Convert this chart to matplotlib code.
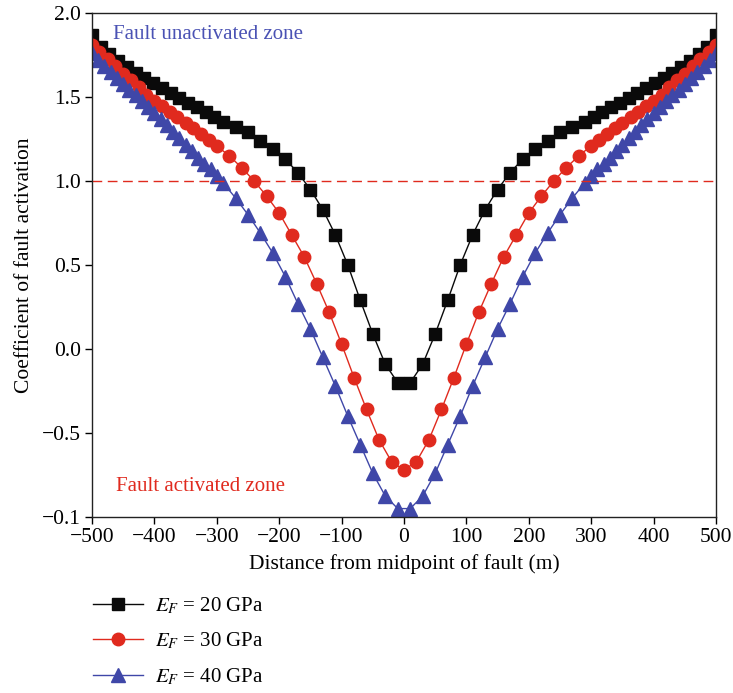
import matplotlib
matplotlib.use("Agg")
import matplotlib.pyplot as plt
import numpy as np

plt.rcParams["font.family"] = ["Liberation Serif", "DejaVu Serif"]
plt.rcParams["mathtext.fontset"] = "stix"

# ---------------------------------------------------------------------------
# Data (left half; the curves are symmetric about 0)
# ---------------------------------------------------------------------------
x_20_left = [-500, -486, -472, -458, -444, -430, -416, -402, -388, -374, -360,
             -346, -332, -318, -304, -290, -270, -250, -230, -210, -190, -170,
             -150, -130, -110, -90, -70, -50, -30, -10]
y_20_left = [1.87, 1.80, 1.755, 1.715, 1.68, 1.645, 1.615, 1.585, 1.555, 1.525,
             1.495, 1.465, 1.44, 1.41, 1.38, 1.35, 1.32, 1.29, 1.24, 1.19, 1.13,
             1.05, 0.95, 0.83, 0.68, 0.50, 0.29, 0.09, -0.09, -0.20]

x_30_left = [-500, -488, -475, -463, -450, -438, -425, -413, -400, -388, -375,
             -363, -350, -338, -325, -313, -300, -280, -260, -240, -220, -200,
             -180, -160, -140, -120, -100, -80, -60, -40, -20]
y_30_left = [1.81, 1.77, 1.725, 1.685, 1.64, 1.60, 1.56, 1.515, 1.475, 1.445,
             1.41, 1.38, 1.345, 1.315, 1.28, 1.245, 1.21, 1.15, 1.08, 1.00, 0.91,
             0.81, 0.68, 0.55, 0.39, 0.22, 0.03, -0.17, -0.36, -0.54, -0.67]
x_30_mid = [0]
y_30_mid = [-0.72]

x_40_left = [-500, -490, -480, -470, -460, -450, -440, -430, -420, -410, -400,
             -390, -380, -370, -360, -350, -340, -330, -320, -310, -300, -290,
             -270, -250, -230, -210, -190, -170, -150, -130, -110, -90, -70,
             -50, -30, -10]
y_40_left = [1.76, 1.72, 1.685, 1.65, 1.615, 1.58, 1.545, 1.51, 1.475, 1.44,
             1.405, 1.37, 1.335, 1.295, 1.255, 1.215, 1.18, 1.14, 1.10, 1.07,
             1.03, 0.99, 0.90, 0.80, 0.69, 0.57, 0.43, 0.27, 0.12, -0.05, -0.22,
             -0.40, -0.57, -0.74, -0.875, -0.95]

labels = [r"$E_F$ = 20 GPa", r"$E_F$ = 30 GPa", r"$E_F$ = 40 GPa"]
y_ticks = [-1.0, -0.5, 0.0, 0.5, 1.0, 1.5, 2.0]
y_tick_labels = ["\u22120.1", "\u22120.5", "0.0", "0.5", "1.0", "1.5", "2.0"]
x_ticks = [-500, -400, -300, -200, -100, 0, 100, 200, 300, 400, 500]


def mirror(xl, yl, xm=None, ym=None):
    xm = xm or []
    ym = ym or []
    x = list(xl) + list(xm) + [-v for v in reversed(xl)]
    y = list(yl) + list(ym) + list(reversed(yl))
    return np.array(x), np.array(y)


BLACK = "#0a0a0a"
RED = "#e02a1e"
BLUE = "#3f47a8"

fig = plt.figure(figsize=(7.33, 6.93), dpi=100)
ax = fig.add_axes([0.1255, 0.254, 0.8513, 0.727])

x20, y20 = mirror(x_20_left, y_20_left)
x30, y30 = mirror(x_30_left, y_30_left, x_30_mid, y_30_mid)
x40, y40 = mirror(x_40_left, y_40_left)

ax.plot(x20, y20, color=BLACK, lw=1.0, marker="s", ms=8, label=labels[0])
ax.plot(x30, y30, color=RED, lw=1.0, marker="o", ms=9, label=labels[1])
ax.plot(x40, y40, color=BLUE, lw=1.0, marker="^", ms=10, label=labels[2])

ax.axhline(1.0, color=RED, lw=1.0, ls=(0, (7, 4)))

ax.text(-466, 1.87, "Fault unactivated zone", color="#4a52b4", fontsize=15,
        va="center", ha="left")
ax.text(-461, -0.82, "Fault activated zone", color=RED, fontsize=15,
        va="center", ha="left")

ax.set_xlim(-500, 500)
ax.set_ylim(-1.0, 2.0)
ax.set_xticks(x_ticks)
ax.set_xticklabels([str(v).replace("-", "\u2212") for v in x_ticks])
ax.set_yticks(y_ticks)
ax.set_yticklabels(y_tick_labels)
ax.tick_params(direction="out", length=5, width=1.0, labelsize=15.5, pad=3)
for sp in ax.spines.values():
    sp.set_linewidth(1.0)
    sp.set_color("#222222")

ax.set_xlabel("Distance from midpoint of fault (m)", fontsize=15.5, labelpad=5)
ax.set_ylabel("Coefficient of fault activation", fontsize=15.5, labelpad=6)

fig.legend(loc="upper left", bbox_to_anchor=(0.101, 0.168), frameon=False,
           fontsize=15, labelspacing=0.72, handlelength=2.4, handletextpad=0.6)

fig.savefig("out.png", dpi=100)
